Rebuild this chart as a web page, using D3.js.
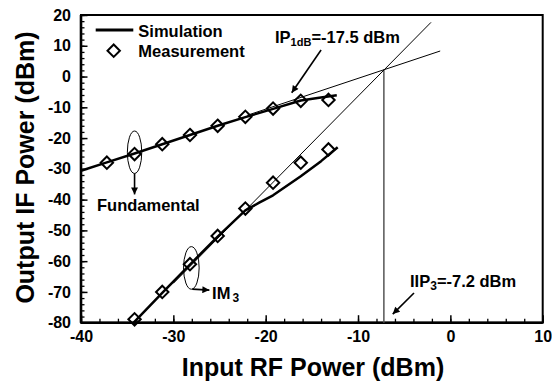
<!DOCTYPE html>
<html>
<head>
<meta charset="utf-8">
<script src="https://cdn.jsdelivr.net/npm/d3@7/dist/d3.min.js"></script>
<style>
  html, body { margin: 0; padding: 0; background: #fff; }
  svg { display: block; }
  text { font-family: "Liberation Sans", Arial, Helvetica, sans-serif; font-weight: bold; fill: #000; }
</style>
</head>
<body>
<svg id="chart" width="552" height="385"></svg>
<script>
// ---------- data ----------
const xMajorTicks = [-40, -30, -20, -10, 0, 10];
const yMajorTicks = [20, 10, 0, -10, -20, -30, -40, -50, -60, -70, -80];

// Fundamental: simulation curve and measured points
const fundSimX = [-40, -37.2, -34.2, -31.2, -28.2, -25.2, -22.2, -19.2, -16.2, -14.2, -12.3];
const fundSimY = [-30.6, -27.9, -25.0, -22.0, -19.0, -16.0, -13.2, -10.5, -7.8, -6.9, -6.1];
const fundMeasX = [-37.2, -34.2, -31.2, -28.2, -25.2, -22.2, -19.2, -16.2, -13.2];
const fundMeasY = [-28.0, -25.2, -22.0, -19.0, -16.0, -13.1, -10.4, -7.9, -7.6];

// IM3: simulation curve and measured points
const im3SimX = [-34.3, -31.2, -28.2, -25.2, -22.2, -20.7, -19.2, -16.2, -14.0, -12.2];
const im3SimY = [-80.0, -70.3, -61.1, -52.0, -43.5, -41.0, -38.6, -32.4, -27.5, -23.0];
const im3MeasX = [-34.2, -31.2, -28.2, -25.2, -22.2, -19.2, -16.2, -13.2];
const im3MeasY = [-78.9, -70.0, -61.0, -51.8, -42.9, -34.5, -28.0, -23.7];

// extrapolation lines (slope 1 and slope 3) and intercept point
const fundExtX = [-22.0, -1.1];
const fundExtY = [-12.6, 8.3];
const im3ExtX = [-30.0, -2.1];
const im3ExtY = [-67.2, 17.6];
const iip3X = -7.2;
const iip3Y = 2.3;

// ---------- layout ----------
const svg = d3.select("#chart");
const m = { left: 81, top: 15, right: 9.3, bottom: 62.3 };
const W = 552, H = 385;
const pw = W - m.left - m.right, ph = H - m.top - m.bottom;

const x = d3.scaleLinear().domain([-40, 10]).range([0, pw]);
const y = d3.scaleLinear().domain([-80, 20]).range([ph, 0]);

const g = svg.append("g").attr("transform", `translate(${m.left},${m.top})`);
const fmt = d => String(d);

// minor ticks
const minorX = d3.range(-40, 10.001, 2);
const minorY = d3.range(-80, 20.001, 2);
g.append("g").attr("transform", `translate(0,${ph})`)
  .call(d3.axisBottom(x).tickValues(minorX).tickFormat("").tickSizeInner(-4).tickSizeOuter(0))
  .call(s => s.select(".domain").remove())
  .call(s => s.selectAll("line").attr("stroke-width", 1.3));
g.append("g")
  .call(d3.axisLeft(y).tickValues(minorY).tickFormat("").tickSizeInner(-3.5).tickSizeOuter(0))
  .call(s => s.select(".domain").remove())
  .call(s => s.selectAll("line").attr("stroke-width", 1.3));

// major axes
const xAxis = g.append("g").attr("transform", `translate(0,${ph})`)
  .call(d3.axisBottom(x).tickValues(xMajorTicks).tickFormat(fmt).tickSizeInner(-7.5).tickSizeOuter(0).tickPadding(8));
const yAxis = g.append("g")
  .call(d3.axisLeft(y).tickValues(yMajorTicks).tickFormat(fmt).tickSizeInner(-6.5).tickSizeOuter(0).tickPadding(10));
[xAxis, yAxis].forEach(a => {
  a.select(".domain").remove();
  a.selectAll("line").attr("stroke-width", 1.5);
  a.selectAll("text").style("font-size", "16px").style("font-family", "'Liberation Sans', Arial, sans-serif").style("font-weight", "bold").attr("fill", "#000");
});

// frame
g.append("rect").attr("x", 0).attr("y", 0).attr("width", pw).attr("height", ph)
  .attr("fill", "none").attr("stroke", "#000").attr("stroke-width", 2);
g.append("line").attr("x1", 0).attr("x2", 0).attr("y1", 0).attr("y2", ph).attr("stroke", "#000").attr("stroke-width", 2.6);
g.append("line").attr("x1", 0).attr("x2", pw).attr("y1", ph).attr("y2", ph).attr("stroke", "#000").attr("stroke-width", 2.6);

const line = d3.line().x(d => x(d[0])).y(d => y(d[1]));
const zip = (a, b) => a.map((v, i) => [v, b[i]]);

// vertical IIP3 line
g.append("line").attr("x1", x(iip3X)).attr("x2", x(iip3X)).attr("y1", y(iip3Y)).attr("y2", ph)
  .attr("stroke", "#555").attr("stroke-width", 1.5);

// extrapolation lines
g.append("path").attr("d", line(zip(fundExtX, fundExtY))).attr("fill", "none").attr("stroke", "#000").attr("stroke-width", 1);
g.append("path").attr("d", line(zip(im3ExtX, im3ExtY))).attr("fill", "none").attr("stroke", "#000").attr("stroke-width", 1);

// simulation curves
g.append("path").attr("d", line(zip(fundSimX, fundSimY))).attr("fill", "none").attr("stroke", "#000").attr("stroke-width", 2.5).attr("stroke-linejoin", "round");
g.append("path").attr("d", line(zip(im3SimX, im3SimY))).attr("fill", "none").attr("stroke", "#000").attr("stroke-width", 2.5).attr("stroke-linejoin", "round");

// measurement diamonds
const diamond = (cx, cy, r) => `M${cx},${cy - r}L${cx + r},${cy}L${cx},${cy + r}L${cx - r},${cy}Z`;
const allMeas = zip(fundMeasX, fundMeasY).concat(zip(im3MeasX, im3MeasY));
g.selectAll("path.meas").data(allMeas).enter().append("path").attr("class", "meas")
  .attr("d", d => diamond(x(d[0]), y(d[1]), 6.2))
  .attr("fill", "none").attr("stroke", "#000").attr("stroke-width", 2);

// legend
g.append("line").attr("x1", 95.7 - m.left).attr("x2", 133.3 - m.left).attr("y1", 30 - m.top).attr("y2", 30 - m.top)
  .attr("stroke", "#000").attr("stroke-width", 2.8);
g.append("text").attr("x", 138.3 - m.left).attr("y", 37 - m.top).style("font-size", "16.5px").text("Simulation");
g.append("path").attr("d", diamond(113.7 - m.left, 50.7 - m.top, 6.2)).attr("fill", "none").attr("stroke", "#000").attr("stroke-width", 2);
g.append("text").attr("x", 138.3 - m.left).attr("y", 57 - m.top).style("font-size", "16.5px").text("Measurement");

// arrowhead marker
svg.append("defs").append("marker").attr("id", "ah").attr("viewBox", "0 0 10 10")
  .attr("refX", 10).attr("refY", 5).attr("markerUnits", "userSpaceOnUse")
  .attr("markerWidth", 10).attr("markerHeight", 7).attr("orient", "auto")
  .append("path").attr("d", "M0,0L10,5L0,10Z").attr("fill", "#000");

// annotations
function arrow(x1, y1, x2, y2) {
  g.append("line").attr("x1", x(x1)).attr("y1", y(y1)).attr("x2", x(x2)).attr("y2", y(y2))
    .attr("stroke", "#000").attr("stroke-width", 1.6).attr("marker-end", "url(#ah)");
}
// IP1dB
const t1 = g.append("text").attr("x", x(-18.99)).attr("y", y(10.8)).style("font-size", "16.5px");
t1.append("tspan").text("IP");
t1.append("tspan").attr("dy", 3).style("font-size", "11px").text("1dB");
t1.append("tspan").attr("dy", -3).text("=-17.5 dBm");
arrow(-14.0, 8.6, -17.18, -5.25);

// IIP3
const t2 = g.append("text").attr("x", x(-4.37)).attr("y", y(-68.3)).style("font-size", "16.5px");
t2.append("tspan").text("IIP");
t2.append("tspan").attr("dy", 3).style("font-size", "12px").text("3");
t2.append("tspan").attr("dy", -3).text("=-7.2 dBm");
arrow(-3.94, -70.35, -6.24, -77.2);

// Fundamental
g.append("ellipse").attr("cx", x(-34.2)).attr("cy", y(-24.6)).attr("rx", 7.2).attr("ry", 21.2)
  .attr("fill", "none").attr("stroke", "#000").attr("stroke-width", 1);
arrow(-34.2, -31.5, -34.2, -38.3);
g.append("text").attr("x", x(-38.27)).attr("y", y(-43.6)).style("font-size", "16.5px").text("Fundamental");

// IM3
g.append("ellipse").attr("cx", x(-28.05)).attr("cy", y(-62.2)).attr("rx", 7.8).attr("ry", 21.3)
  .attr("fill", "none").attr("stroke", "#000").attr("stroke-width", 1);
arrow(-27.95, -69.1, -26.1, -69.4);
const t3 = g.append("text").attr("x", x(-25.8)).attr("y", y(-72.3)).style("font-size", "16.5px");
t3.append("tspan").text("IM");
t3.append("tspan").attr("dx", 2).attr("dy", 3).style("font-size", "12px").text("3");

// axis titles
svg.append("text").attr("x", 313).attr("y", 376).attr("text-anchor", "middle").style("font-size", "25px")
  .text("Input RF Power (dBm)");
svg.append("text").attr("transform", "translate(33.5,167.5) rotate(-90)").attr("text-anchor", "middle").style("font-size", "25px")
  .text("Output IF Power (dBm)");
</script>
</body>
</html>
